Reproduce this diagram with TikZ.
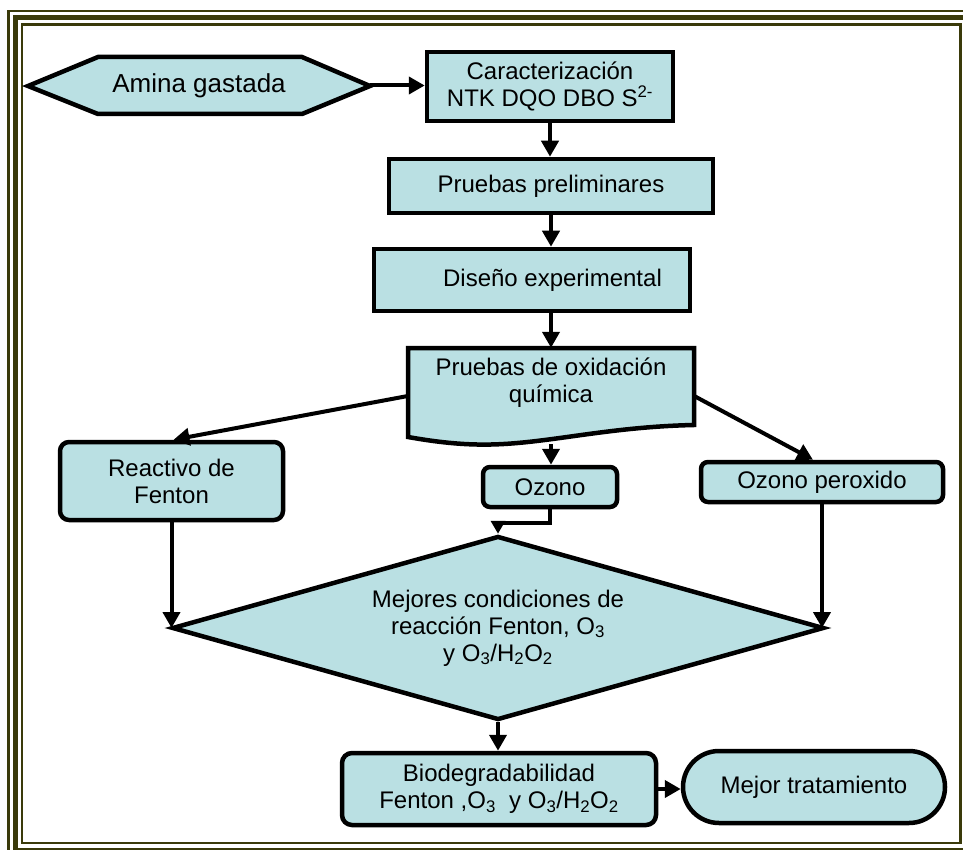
\documentclass[tikz,border=0pt]{standalone}
\usepackage{fontspec}
\setmainfont{Liberation Sans}
\usetikzlibrary{shapes.geometric,shapes.misc,arrows.meta}
\definecolor{boxfill}{RGB}{186,224,227}
\definecolor{frameolive}{RGB}{58,58,10}
\begin{document}
\begin{tikzpicture}[x=1pt,y=-1pt,
		shapefill/.style={draw=black,line width=4.5pt,fill=boxfill},
		box/.style={shapefill,align=center,inner sep=0pt},
		roundbox/.style={box,rounded corners=9pt},
		flow/.style={line width=4pt,-{Triangle[length=16pt,width=17pt]}}]
		\tikzstyle{every node}+=[font=\fontsize{24}{27}\selectfont]
		\useasboundingbox (0,0) rectangle (963,850);
		\draw [frameolive,line width=2.5pt] (8.5,11) rectangle (974,857);
		\draw [frameolive,line width=5pt] (15,18) rectangle (967.5,850);
		\draw [frameolive,line width=2.5pt] (22,24.5) rectangle (960.5,843);
		\draw [shapefill] (28,86) -- (98,57) -- (302,57) -- (370,86) -- (302,114) -- (98,114) -- cycle;
		\node [minimum width=342pt,minimum height=57pt,font=\fontsize{26}{30}\selectfont] (hex) at (199,85.5) {Amina gastada};
		\node [box,minimum width=246pt,minimum height=69pt] (carac) at (550,86.5) {Caracterización\\NTK DQO DBO S\textsuperscript{2-}};
		\node [box,minimum width=324pt,minimum height=54pt] (prelim) at (551,186) {Pruebas preliminares};
		\node [box,minimum width=316pt,minimum height=62pt] (diseno) at (532,280) {\hspace*{41pt}Diseño experimental};
		\draw [shapefill] (408,348) -- (694,348) -- (694,425) .. controls (600,427) and (540,446) .. (477,444.5) .. controls (450,444) and (425,440) .. (408,437) -- cycle;
		\node [minimum width=286pt,minimum height=96pt] (oxid) at (551,396) {};
		\node [align=center,inner sep=0pt] (oxidtext) at (551,383) {Pruebas de oxidación\\química};
		\node [roundbox,minimum width=223pt,minimum height=78pt] (react) at (171.5,481) {Reactivo de\\Fenton};
		\node [roundbox,rounded corners=7pt,minimum width=134pt,minimum height=40pt] (ozono) at (550,487) {Ozono};
		\node [roundbox,rounded corners=7pt,minimum width=242pt,minimum height=40pt] (ozper) at (822,482) {Ozono peroxido};
		\node [box,diamond,aspect=3.54,minimum width=652pt,minimum height=184pt] (dia) at (498,628) {Mejores condiciones de\\reacción Fenton, O\textsubscript{3}\\y O\textsubscript{3}/H\textsubscript{2}O\textsubscript{2}};
		\node [roundbox,rounded corners=10pt,minimum width=314pt,minimum height=72pt] (bio) at (499,789) {Biodegradabilidad\\Fenton ,O\textsubscript{3}\ \ y O\textsubscript{3}/H\textsubscript{2}O\textsubscript{2}};
		\node [box,rounded rectangle,minimum width=262pt,minimum height=72pt] (mejor) at (814,787) {Mejor tratamiento};
		\draw [flow] (hex.east) -- (hex.east -| carac.west);
		\draw [flow] (carac.south) -- (carac.south |- prelim.north);
		\draw [flow] (prelim.south) -- (prelim.south |- diseno.north);
		\draw [flow] (oxid.north |- diseno.south) -- (oxid.north);
		\draw [flow] (oxid.west) -- ([xshift=2pt]react.north);
		\draw [flow] (oxid.east) -- ([xshift=-9pt]ozper.north);
		\draw [flow] (oxid.south) -- (oxid.south |- ozono.north);
		\draw [flow,-{Triangle[length=13pt,width=14pt]}] (ozono.south) -- ++(0,14) -| (dia.north);
		\draw [flow] (react.south) -- (react.south |- dia.west);
		\draw [flow] (ozper.south) -- (ozper.south |- dia.east);
		\draw [flow] (dia.south) -- (dia.south |- bio.north);
		\draw [flow] (bio.east) -- (bio.east -| mejor.west);
	\end{tikzpicture}
\end{document}
